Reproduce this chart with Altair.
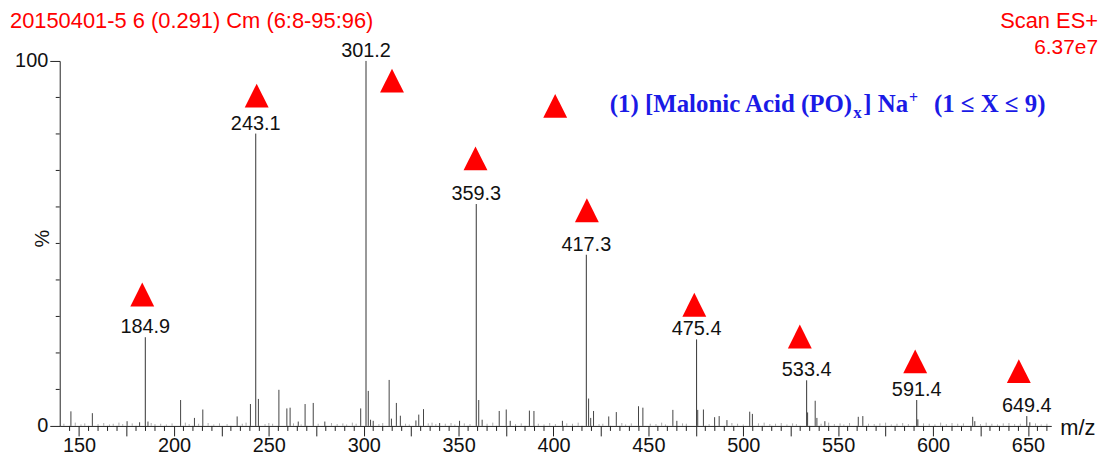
import altair as alt
import pandas as pd

# ---- data ----
main_mz = [184.9, 243.1, 301.2, 359.3, 417.3, 475.4, 533.4, 591.4, 649.4]
main_int = [24.3, 80.1, 100.0, 60.8, 46.9, 23.7, 12.5, 7.1, 2.7]
main_lbl = ["184.9", "243.1", "301.2", "359.3", "417.3", "475.4", "533.4", "591.4", "649.4"]

tri_mz = [183.3, 243.6, 314.9, 358.9, 417.6, 474.2, 529.8, 590.6, 645.2, 400.9]
tri_int = [36.0, 90.5, 94.6, 73.3, 59.1, 33.2, 24.5, 17.7, 15.0, 87.7]

minor_mz = [145.7, 157.0, 175.3, 181.9, 186.3, 203.5, 210.8, 215.2, 233.3, 240.3,
            244.5, 255.3, 259.5, 261.2, 265.5, 269.1, 273.4, 279.5, 298.4, 302.4,
            303.6, 305.0, 313.4, 314.6, 317.2, 319.3, 327.5, 329.0, 331.5, 340.0,
            350.5, 360.6, 362.4, 371.4, 375.1, 377.2, 387.3, 389.7, 404.7, 418.5,
            419.6, 421.1, 429.1, 433.1, 444.8, 447.1, 462.9, 465.0, 476.0, 479.0,
            484.9, 487.3, 491.4, 503.4, 504.8, 533.9, 537.9, 538.8, 543.0, 560.6,
            563.0, 592.0, 620.9, 622.0, 651.0]
minor_int = [4.0, 3.5, 1.3, 1.0, 1.2, 7.1, 2.2, 4.5, 2.6, 6.0,
             7.4, 9.9, 4.8, 5.0, 1.2, 6.0, 6.3, 1.2, 4.8, 9.6,
             1.7, 1.4, 12.6, 2.0, 6.3, 2.8, 1.5, 3.1, 4.6, 0.8,
             1.4, 7.1, 1.7, 4.1, 4.5, 1.4, 4.2, 4.1, 1.4, 7.5,
             2.2, 4.1, 2.6, 3.8, 5.4, 5.0, 4.4, 1.4, 4.4, 4.5,
             2.4, 2.7, 1.6, 3.9, 3.3, 3.7, 6.9, 2.2, 1.3, 2.5,
             2.7, 1.8, 2.5, 1.3, 1.0]

noise_mz = [142, 148, 151, 153, 160, 163, 166, 168, 171, 173, 178, 188, 190, 193, 196,
            199, 206, 208, 213, 218, 221, 224, 228, 236, 238, 248, 250, 252, 263, 267,
            276, 283, 286, 289, 291, 294, 296, 308, 310, 322, 324, 334, 336, 338, 343,
            346, 348, 353, 356, 365, 368, 380, 383, 392, 395, 398, 401, 407, 410, 413,
            424, 426, 436, 438, 441, 451, 454, 457, 459, 468, 470, 482, 494, 497, 500,
            508, 511, 514, 517, 520, 523, 526, 528, 541, 545, 548, 551, 553, 556, 566,
            569, 572, 575, 578, 581, 584, 587, 595, 598, 601, 604, 607, 610, 613, 616,
            625, 628, 631, 634, 637, 640, 643, 646, 654, 657, 660]
noise_int = [0.6, 0.9, 0.4, 0.7, 0.5, 0.8, 0.4, 0.6, 0.9, 0.5, 0.7, 0.8, 0.5, 0.6, 0.4,
             0.7, 0.9, 0.5, 0.6, 0.8, 0.4, 0.7, 0.5, 0.6, 0.9, 0.5, 0.8, 0.6, 0.7, 0.4,
             0.6, 0.8, 0.5, 0.7, 0.4, 0.9, 0.6, 0.5, 0.8, 0.6, 0.4, 0.7, 0.9, 0.5, 0.6,
             0.8, 0.4, 0.7, 0.5, 0.6, 0.9, 0.5, 0.7, 0.6, 0.4, 0.8, 0.5, 0.7, 0.6, 0.9,
             0.5, 0.6, 0.8, 0.4, 0.7, 0.6, 0.5, 0.9, 0.4, 0.7, 0.6, 0.5, 0.8, 0.6, 0.4,
             0.7, 0.9, 0.5, 0.6, 0.8, 0.4, 0.7, 0.5, 0.6, 0.9, 0.5, 0.7, 0.4, 0.8, 0.6,
             0.5, 0.7, 0.9, 0.4, 0.6, 0.8, 0.5, 0.7, 0.6, 0.4, 0.9, 0.5, 0.8, 0.6, 0.7,
             0.5, 0.9, 0.6, 0.4, 0.7, 0.8, 0.5, 0.6, 0.7, 0.4, 0.6]

x_major = [150, 175, 200, 225, 250, 275, 300, 325, 350, 375, 400, 425, 450, 475,
           500, 525, 550, 575, 600, 625, 650]
x_minor = [v for v in range(145, 661, 5) if v % 25 != 0]
y_major = [0, 100]
y_minor = [10, 20, 30, 40, 50, 60, 70, 80, 90]

title_left = "20150401-5 6 (0.291) Cm (6:8-95:96)"
title_right1 = "Scan ES+"
title_right2 = "6.37e7"
x_title = "m/z"
y_title = "%"
legend_parts = ["(1) [Malonic Acid (PO)", "x", "] Na", "+", "(1 \u2264 X \u2264 9)"]

# ---- styling ----
W, H = 997, 367
FONT = "Liberation Sans"
AX = "#222222"
RED = "#ff0000"
BLUE = "#1a1ae6"
TRI = "M0,-1L-1,1L1,1Z"

xscale = alt.Scale(domain=[139.8, 662.3], nice=False, zero=False)
yscale = alt.Scale(domain=[0, 100], nice=False)

x_axis = alt.Axis(values=x_major, labelExpr="datum.value % 50 == 0 ? datum.label : ''",
                  tickSize=10, tickColor=AX, domainColor=AX, labelColor="#111111",
                  labelFont=FONT, labelFontSize=20, labelPadding=0, grid=False,
                  title=None, labelFlush=False, labelOverlap=False, format="d")
y_axis = alt.Axis(values=y_major, tickSize=10, tickColor=AX, domainColor=AX,
                  labelColor="#111111", labelFont=FONT, labelFontSize=20,
                  labelPadding=2, grid=False, title=None, format="d")

X = alt.X("mz:Q", scale=xscale, axis=x_axis)
Y = alt.Y("v:Q", scale=yscale, axis=y_axis)

df_main = pd.DataFrame({"mz": main_mz, "v": main_int, "lbl": main_lbl})
df_minor = pd.DataFrame({"mz": minor_mz, "v": minor_int})
df_noise = pd.DataFrame({"mz": noise_mz, "v": noise_int})
df_tri = pd.DataFrame({"mz": tri_mz, "v": tri_int})
df_xminor = pd.DataFrame({"mz": x_minor})
df_yminor = pd.DataFrame({"v": y_minor})

noise = alt.Chart(df_noise).mark_rule(color="#aaaaaa", strokeWidth=1).encode(
    x=X, y=Y, y2=alt.datum(0))
minor = alt.Chart(df_minor).mark_rule(color="#444444", strokeWidth=1).encode(
    x=X, y=Y, y2=alt.datum(0))
main = alt.Chart(df_main).mark_rule(color="#333333", strokeWidth=1).encode(
    x=X, y=Y, y2=alt.datum(0))
labels = alt.Chart(df_main).mark_text(font=FONT, fontSize=20, color="#111111",
                                      baseline="alphabetic", dy=-4).encode(
    x=X, y=Y, text="lbl:N")
tris = alt.Chart(df_tri).mark_point(shape=TRI, filled=True, color=RED, opacity=1,
                                    size=576, strokeWidth=0).encode(x=X, y=Y)

xticks = alt.Chart(df_xminor).mark_rule(color=AX, strokeWidth=1).encode(
    x=X, y=alt.value(H), y2=alt.value(H + 5))
yticks = alt.Chart(df_yminor).mark_rule(color=AX, strokeWidth=1).encode(
    y=Y, x=alt.value(-4), x2=alt.value(0))


def label(txt, x, y, size, color, align="left", weight="normal", font=FONT,
          baseline="middle", angle=0):
    return alt.Chart(pd.DataFrame({"t": [txt]})).mark_text(
        align=align, baseline=baseline, fontSize=size, color=color,
        fontWeight=weight, font=font, angle=angle).encode(
        text="t:N", x=alt.value(x), y=alt.value(y))


texts = [
    label(title_left, -50, -40, 22, RED),
    label(title_right1, 1044, -40, 22, RED, align="right"),
    label(title_right2, 1044, -13, 21, RED, align="right"),
    label(x_title, 1006, 369, 22, "#111111"),
    label(y_title, -17, H / 2 + 4, 20, "#111111", angle=270),
]
# legend text, built in pieces for the subscript and superscript
SER = "Liberation Serif"
lx, ly = 553, 51
texts += [
    label(legend_parts[0], lx, ly, 25, BLUE, weight="bold", font=SER, baseline="alphabetic"),
    label(legend_parts[1], lx + 245, ly + 6, 17, BLUE, weight="bold", font=SER, baseline="alphabetic"),
    label(legend_parts[2], lx + 255, ly, 25, BLUE, weight="bold", font=SER, baseline="alphabetic"),
    label(legend_parts[3], lx + 301, ly - 9, 16, BLUE, weight="bold", font=SER, baseline="alphabetic"),
    label(legend_parts[4], lx + 326, ly, 25, BLUE, weight="bold", font=SER, baseline="alphabetic"),
]

chart = alt.layer(noise, minor, main, labels, tris, xticks, yticks, *texts).properties(
    width=W, height=H,
    autosize=alt.AutoSizeParams(type="none"),
    padding={"left": 52, "top": 52, "right": 48, "bottom": 30},
    background="white",
).configure_view(strokeOpacity=0)

chart.save("out.html", embed_options={"renderer": "svg", "actions": False})
